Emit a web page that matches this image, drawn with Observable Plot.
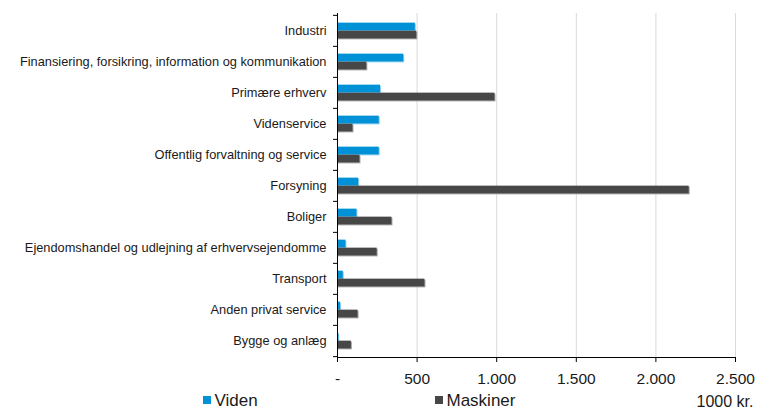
<!DOCTYPE html>
<html>
<head>
<meta charset="utf-8">
<script src="https://cdn.jsdelivr.net/npm/d3@7"></script>
<script src="https://cdn.jsdelivr.net/npm/@observablehq/plot@0.6"></script>
<style>
  html, body { margin: 0; padding: 0; background: #fff; }
  body { font-family: "Liberation Sans", Arial, sans-serif; color: #1a1a1a; }
  #wrap { position: relative; width: 759px; height: 409px; overflow: hidden; }
  #legend { position: absolute; left: 0; top: 390px; width: 759px; height: 19px; }
  .sw { position: absolute; width: 8px; height: 8px; top: 6px; }
  .lt { position: absolute; top: 1.6px; font-size: 17px; line-height: 17px; white-space: nowrap; }
  .unit { position: absolute; top: 3.5px; font-size: 16px; line-height: 16px; white-space: nowrap; }
</style>
</head>
<body>
<div id="wrap">
  <div id="chart"></div>
  <div id="legend">
    <div class="sw" style="left:203px;background:#0091d6"></div>
    <div class="lt" style="left:214.5px">Viden</div>
    <div class="sw" style="left:435px;background:#474747"></div>
    <div class="lt" style="left:446.5px">Maskiner</div>
    <div class="unit" style="left:696.5px">1000 kr.</div>
  </div>
</div>
<script>
const categories = [
  "Industri",
  "Finansiering, forsikring, information og kommunikation",
  "Primære erhverv",
  "Videnservice",
  "Offentlig forvaltning og service",
  "Forsyning",
  "Boliger",
  "Ejendomshandel og udlejning af erhvervsejendomme",
  "Transport",
  "Anden privat service",
  "Bygge og anlæg"
];
const viden    = [489, 416, 270, 262, 262, 133, 122, 53, 36, 19, 8];
const maskiner = [498, 184, 989, 97, 141, 2209, 342, 249, 549, 129, 87];
const xTicks = [0, 500, 1000, 1500, 2000, 2500];

const rows = categories.map((c, i) => ({category: c, viden: viden[i], maskiner: maskiner[i]}));

const fmt = d3.formatLocale({decimal: ",", thousands: ".", grouping: [3], currency: ["", " kr."]}).format(",");
const tickFormat = d => d === 0 ? "-" : fmt(d);

const height = 390, marginTop = 13, marginBottom = 33;
const band = (height - marginTop - marginBottom) / categories.length;
const half = band / 2, barH = 8;

const chart = Plot.plot({
  width: 759,
  height,
  marginLeft: 337,
  marginRight: 24,
  marginTop,
  marginBottom,
  style: {fontFamily: "'Liberation Sans', Arial, sans-serif", color: "#1a1a1a", background: "#fff"},
  x: {domain: [0, 2500]},
  y: {domain: categories, padding: 0},
  marks: [
    Plot.gridX(xTicks.slice(1), {stroke: "#d9d9d9", strokeOpacity: 1, strokeWidth: 1}),
    // shadows
    Plot.barX(rows, {y: "category", x: "viden", fill: "#8ccdee", dx: 1, dy: 1,
      insetTop: half - barH, insetBottom: half}),
    Plot.barX(rows, {y: "category", x: "maskiner", fill: "#a0a0a0", dx: 1, dy: 1,
      insetTop: half, insetBottom: half - barH}),
    // bars
    Plot.barX(rows, {y: "category", x: "viden", fill: "#0091d6",
      insetTop: half - barH, insetBottom: half}),
    Plot.barX(rows, {y: "category", x: "maskiner", fill: "#474747",
      insetTop: half, insetBottom: half - barH}),
    // category boundary ticks
    Plot.ruleY(categories, {y: d => d, x1: 0, x2: 0, dy: -half, insetLeft: -4, insetRight: 0, stroke: "#000"}),
    Plot.ruleY(categories.slice(-1), {y: d => d, x1: 0, x2: 0, dy: half, insetLeft: -4, insetRight: 0, stroke: "#000"}),
    Plot.frame({anchor: "left", stroke: "#000"}),
    Plot.frame({anchor: "bottom", stroke: "#000"}),
    Plot.axisY({tickSize: 0, tickPadding: 11, fontSize: 12.8, label: null}),
    Plot.axisX({ticks: xTicks, tickFormat, tickSize: 5, tickPadding: 10, fontSize: 15.5, label: null, stroke: "#000"})
  ]
});
document.getElementById("chart").appendChild(chart);
</script>
</body>
</html>
